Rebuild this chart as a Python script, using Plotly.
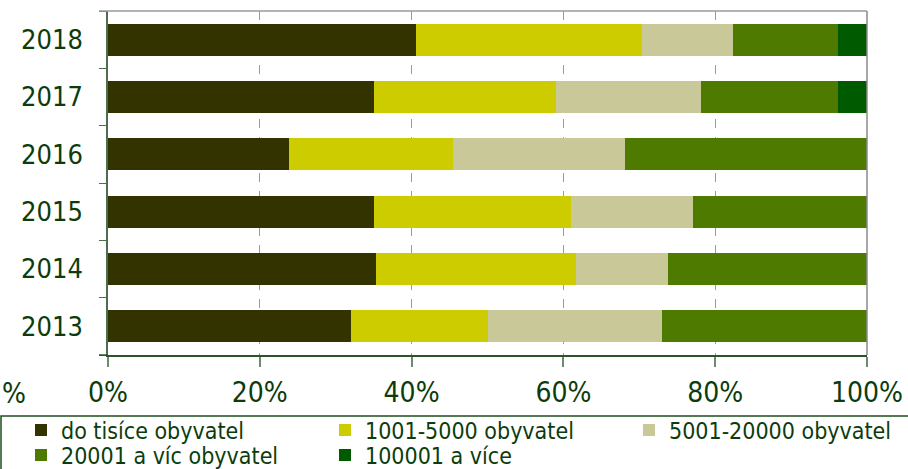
import plotly.graph_objects as go

years = ["2013", "2014", "2015", "2016", "2017", "2018"]
series_names = ["do tisíce obyvatel", "1001-5000 obyvatel", "5001-20000 obyvatel",
                "20001 a víc obyvatel", "100001 a více"]
do_tisice = [32.0, 35.3, 35.0, 23.8, 35.0, 40.6]
s1001_5000 = [18.1, 26.4, 26.0, 21.7, 24.0, 29.7]
s5001_20000 = [22.9, 12.1, 16.1, 22.6, 19.1, 12.0]
s20001 = [27.0, 26.2, 22.9, 31.9, 18.1, 13.9]
s100001 = [0, 0, 0, 0, 3.8, 3.8]
series_values = [do_tisice, s1001_5000, s5001_20000, s20001, s100001]
colors = ["#333300", "#cccc00", "#c8c899", "#4f7a00", "#005a00"]
legend_of = ["legend", "legend", "legend", "legend2", "legend2"]
x_ticks = [0, 20, 40, 60, 80, 100]
x_tick_labels = ["0%", "20%", "40%", "60%", "80%", "100%"]

W, H = 908, 469
FONT = "DejaVu Sans Condensed, DejaVu Sans, sans-serif"
TXT = "#0c3c0c"


def px(x):
    return x / W


def py(y):
    return 1 - y / H


fig = go.Figure()
for name, vals, col, lg in zip(series_names, series_values, colors, legend_of):
    fig.add_trace(go.Bar(
        y=years, x=vals, name=name, orientation="h",
        marker=dict(color=col, line=dict(width=0)),
        width=0.56, legend=lg,
    ))

leg_common = dict(
    orientation="h", xanchor="left", yanchor="middle",
    bgcolor="rgba(0,0,0,0)", borderwidth=0,
    font=dict(family=FONT, size=23, color=TXT),
    traceorder="normal", entrywidth=259, entrywidthmode="pixels",
    itemwidth=30,
)

fig.update_layout(
    width=W, height=H,
    barmode="stack",
    plot_bgcolor="white", paper_bgcolor="white",
    margin=dict(l=0, r=0, t=0, b=0, autoexpand=False),
    font=dict(family=FONT, color=TXT),
    showlegend=True,
    legend=dict(x=px(21), y=py(430), **leg_common),
    legend2=dict(x=px(21), y=py(455), **leg_common),
    xaxis=dict(
        domain=[px(108), px(867)],
        range=[0, 100], tickvals=x_ticks, ticktext=x_tick_labels,
        showgrid=True, gridcolor="#9a9a9a", griddash="dash", gridwidth=1,
        zeroline=False,
        showline=True, linecolor="#2a552a", linewidth=1.5,
        ticks="outside", ticklen=10, tickcolor="#6f8a6f", tickwidth=1.5,
        tickfont=dict(family=FONT, size=28, color=TXT),
        ticklabelstandoff=2,
        fixedrange=True,
    ),
    yaxis=dict(
        domain=[py(355), py(11)],
        type="category", categoryorder="array", categoryarray=years,
        showgrid=False, zeroline=False,
        showline=True, linecolor="#4c6e4c", linewidth=1.5,
        ticks="outside", ticklen=7, tickcolor="#4c6e4c", tickson="boundaries",
        tickfont=dict(family=FONT, size=27, color=TXT),
        ticklabelstandoff=18,
        fixedrange=True,
    ),
)

# plot-area frame (top and right) in gray
fig.add_shape(type="line", xref="paper", yref="paper", x0=px(99), x1=px(867),
              y0=py(11), y1=py(11), line=dict(color="#9a9a9a", width=1.5))
fig.add_shape(type="line", xref="paper", yref="paper", x0=px(867), x1=px(867),
              y0=py(355), y1=py(11), line=dict(color="#8a8a8a", width=1.5))
# extended bottom axis line
fig.add_shape(type="line", xref="paper", yref="paper", x0=px(99), x1=px(108),
              y0=py(355), y1=py(355), line=dict(color="#2a552a", width=1.5))
# legend frame
fig.add_shape(type="rect", xref="paper", yref="paper", x0=px(1), x1=px(915),
              y0=py(416), y1=py(480), line=dict(color="#1e4d1e", width=1.5),
              fillcolor="rgba(0,0,0,0)", layer="below")

fig.add_annotation(text="%", xref="paper", yref="paper", x=px(28), y=py(393),
                   xanchor="right", yanchor="middle", showarrow=False,
                   font=dict(family=FONT, size=28, color=TXT))

fig.write_html("out.html", config={"displayModeBar": False},
               post_script="document.body.style.margin='0';document.body.style.overflow='hidden';")
